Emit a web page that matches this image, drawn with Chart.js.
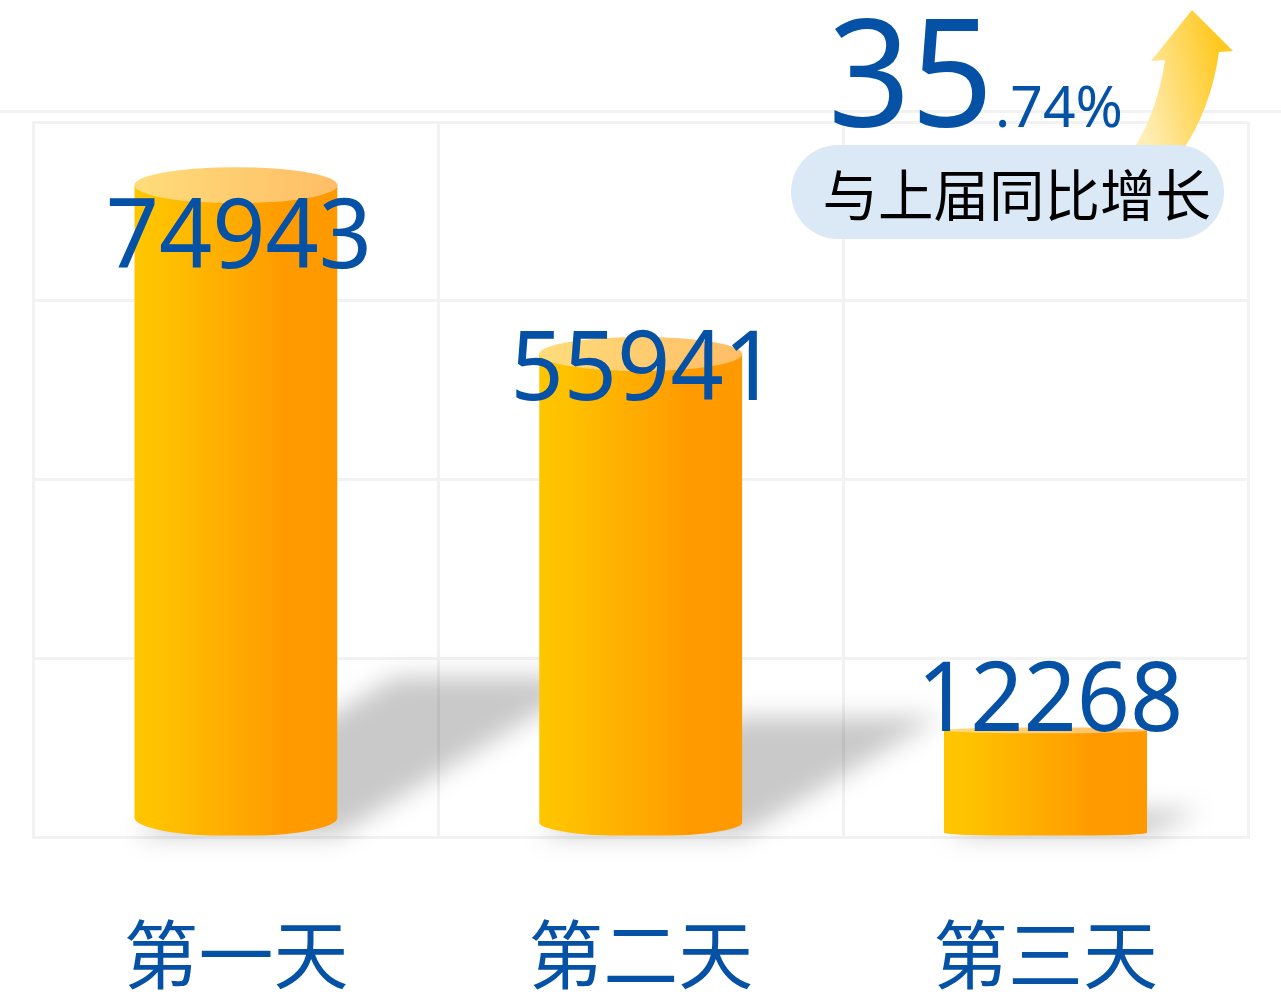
<!DOCTYPE html>
<html lang="zh">
<head>
<meta charset="utf-8">
<title>与上届同比增长</title>
<style>
  html, body { margin: 0; padding: 0; background: #fff; }
  canvas { display: block; }
</style>
<script src="https://cdn.jsdelivr.net/npm/chart.js@4/dist/chart.umd.min.js"></script>
</head>
<body>
<canvas id="chart" width="1281" height="1000"></canvas>
<script>
const categories = ['第一天', '第二天', '第三天'];
const visitors = [74943, 55941, 12268];
const yTicks = [0, 20000, 40000, 60000, 80000];
const growthWhole = '35';
const growthFraction = '.74%';
const growthCaption = '与上届同比增长';

const BLUE = '#0451a5';
const GRID = '#f2f2f2';
const LATIN = '"Noto Sans", sans-serif';
const CJK = '"Noto Sans CJK SC", sans-serif';
const BAR_SHARE = 0.502;

// per bar tweaks
const capRy = [18, 17, 3];
const footRy = [18, 13, 3];
const labelDx = [3, 3, 4.5];
const labelDy = [101, 63, 3.5];

function barGradient(ctx, left, right, stops) {
    const g = ctx.createLinearGradient(left, 0, right, 0);
    stops.forEach(([at, color]) => g.addColorStop(at, color));
    return g;
}

const BODY_STOPS = [[0, '#ffc600'], [0.15, '#ffc000'], [0.75, '#ff9a00'], [1, '#ff9900']];
const CAP_STOPS = [[0, '#ffdc7a'], [1, '#ffbd66']];

const cylinder = {
    id: 'cylinder',
    // soft skewed shadows go under the bars
    beforeDatasetsDraw(chart) {
        const { ctx } = chart;
        const bars = chart.getDatasetMeta(0).data;
        ctx.save();
        ctx.filter = 'blur(12px)';
        ctx.fillStyle = 'rgba(0,0,0,0.21)';
        bars.forEach(bar => {
            const left = bar.x - bar.width / 2, right = bar.x + bar.width / 2;
            const h = bar.base - bar.y;
            const dx = h * 0.37 + 14, dy = h * 0.238;
            ctx.beginPath();
            ctx.moveTo(left, bar.base);
            ctx.lineTo(left + dx, bar.base - dy);
            ctx.lineTo(right + dx, bar.base - dy);
            ctx.lineTo(right, bar.base);
            ctx.closePath();
            ctx.fill();
        });
        ctx.restore();
    },
    // the library draws the bars, we only trim them to a cylinder outline
    beforeDatasetDraw(chart) {
        const { ctx } = chart;
        ctx.save();
        ctx.beginPath();
        chart.getDatasetMeta(0).data.forEach((bar, i) => {
            const left = bar.x - bar.width / 2, right = bar.x + bar.width / 2;
            const rx = bar.width / 2;
            const footY = bar.base - footRy[i];
            ctx.moveTo(left, bar.y + capRy[i]);
            ctx.lineTo(right, bar.y + capRy[i]);
            ctx.lineTo(right, footY);
            ctx.ellipse(bar.x, footY, rx, footRy[i] + 1, 0, 0, Math.PI);
            ctx.closePath();
        });
        ctx.clip();
    },
    afterDatasetDraw(chart) {
        const { ctx } = chart;
        ctx.restore();
        chart.getDatasetMeta(0).data.forEach((bar, i) => {
            const left = bar.x - bar.width / 2, right = bar.x + bar.width / 2;
            ctx.fillStyle = barGradient(ctx, left, right, CAP_STOPS);
            ctx.beginPath();
            ctx.ellipse(bar.x, bar.y + capRy[i], bar.width / 2, capRy[i], 0, 0, Math.PI * 2);
            ctx.fill();
        });
    },
    afterDatasetsDraw(chart) {
        const { ctx } = chart;
        ctx.save();
        ctx.fillStyle = BLUE;
        ctx.textAlign = 'center';
        ctx.textBaseline = 'alphabetic';
        ctx.font = '97px ' + LATIN;
        chart.getDatasetMeta(0).data.forEach((bar, i) => {
            ctx.save();
            ctx.translate(bar.x + labelDx[i], bar.y + labelDy[i]);
            ctx.scale(0.96, 1);
            ctx.fillText(String(visitors[i]), 0, 0);
            ctx.restore();
        });
        ctx.restore();
    }
};

// top rule, growth arrow and badge sit around the plot
const callout = {
    id: 'callout',
    beforeDraw(chart) {
        const { ctx, width } = chart;
        ctx.save();
        ctx.fillStyle = '#fff';
        ctx.fillRect(0, 0, width, chart.height);
        ctx.fillStyle = GRID;
        ctx.fillRect(0, 110, width, 3);
        ctx.restore();
    },
    afterDraw(chart) {
        const { ctx } = chart;
        ctx.save();

        const arrow = ctx.createLinearGradient(1135, 90, 1225, 70);
        arrow.addColorStop(0, '#ffeeb8');
        arrow.addColorStop(1, '#ffc81e');
        ctx.fillStyle = arrow;
        ctx.beginPath();
        ctx.moveTo(1192, 10);
        ctx.lineTo(1233, 51);
        ctx.lineTo(1219, 52);
        ctx.quadraticCurveTo(1211, 108, 1183, 150);
        ctx.lineTo(1133, 150);
        ctx.quadraticCurveTo(1158, 110, 1165, 60);
        ctx.lineTo(1151, 61);
        ctx.closePath();
        ctx.fill();

        ctx.fillStyle = '#dbe9f6';
        ctx.beginPath();
        ctx.roundRect(791, 145, 433, 94, 47);
        ctx.fill();

        ctx.textBaseline = 'alphabetic';
        ctx.textAlign = 'left';
        ctx.fillStyle = BLUE;
        ctx.save();
        ctx.translate(828, 127);
        ctx.scale(0.963, 1);
        ctx.font = '150px ' + LATIN;
        ctx.fillText(growthWhole, 0, 0);
        ctx.restore();
        ctx.font = '57px ' + LATIN;
        ctx.fillText(growthFraction, 995, 127);

        ctx.fillStyle = '#000';
        ctx.font = '55.5px ' + CJK;
        ctx.fillText(growthCaption, 822.5, 216);
        ctx.restore();
    }
};

const ctx = document.getElementById('chart').getContext('2d');

new Chart(ctx, {
    type: 'bar',
    data: {
        labels: categories,
        datasets: [{
            data: visitors,
            barPercentage: BAR_SHARE,
            categoryPercentage: 1,
            borderWidth: 0,
            // scales are laid out by the time elements resolve their options
            backgroundColor(c) {
                const { chart, dataIndex } = c;
                const xScale = chart.scales.x;
                if (!xScale || dataIndex === undefined) return '#ffb000';
                const half = xScale.width / categories.length * BAR_SHARE / 2;
                const mid = xScale.getPixelForValue(dataIndex);
                if (!Number.isFinite(mid) || !Number.isFinite(half)) return '#ffb000';
                return barGradient(chart.ctx, mid - half, mid + half, BODY_STOPS);
            }
        }]
    },
    options: {
        responsive: false,
        animation: false,
        devicePixelRatio: 1,
        layout: { padding: { left: 33.5, right: 33, top: 122, bottom: 0 } },
        plugins: { legend: { display: false }, tooltip: { enabled: false } },
        scales: {
            x: {
                afterFit(scale) { scale.height = 163; },
                grid: { color: GRID, lineWidth: 3, drawTicks: false },
                border: { color: GRID, width: 3 },
                ticks: {
                    color: BLUE,
                    padding: 72,
                    maxRotation: 0,
                    font: { family: '"Noto Sans CJK SC"', size: 75 }
                }
            },
            y: {
                min: 0,
                max: 80000,
                afterFit(scale) { scale.width = 0; },
                afterBuildTicks(scale) { scale.ticks = yTicks.map(value => ({ value })); },
                grid: { color: GRID, lineWidth: 3, drawTicks: false },
                border: { color: GRID, width: 3 },
                ticks: { display: false }
            }
        }
    },
    plugins: [callout, cylinder]
});
</script>
</body>
</html>
